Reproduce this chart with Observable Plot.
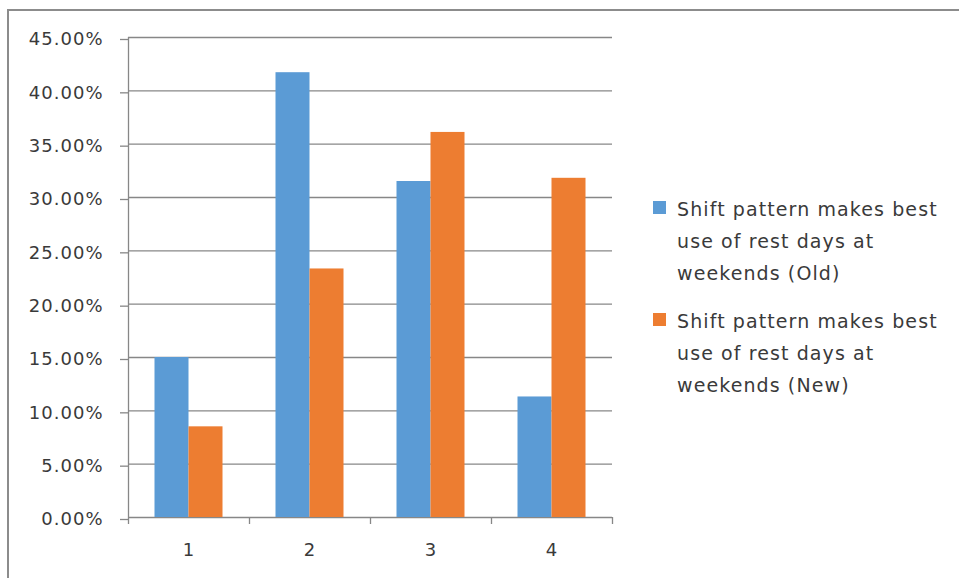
<!DOCTYPE html>
<html>
<head>
<meta charset="utf-8">
<script src="https://cdn.jsdelivr.net/npm/d3@7"></script>
<script src="https://cdn.jsdelivr.net/npm/@observablehq/plot@0.6"></script>
<style>
  body { margin: 0; background: #fff; }
  #chart { position: relative; width: 959px; height: 578px; overflow: hidden; font-family: "DejaVu Sans", sans-serif; }
  #frame { position: absolute; left: 7px; top: 9px; width: 1000px; height: 1000px; border: 2px solid #8c8c8c; box-sizing: border-box; }
  #plot { position: absolute; left: 0; top: 0; }
  #plot svg text { letter-spacing: 1px; }
  #legend { position: absolute; left: 653px; top: 193px; color: #3a3a3a; font-size: 19px; line-height: 32px; letter-spacing: 1.1px; }
  .item { display: flex; align-items: flex-start; margin-bottom: 16px; }
  .sw { width: 13px; height: 13px; margin-top: 8px; margin-right: 11px; flex: none; }
</style>
</head>
<body>
<div id="chart">
  <div id="frame"></div>
  <div id="plot"></div>
  <div id="legend"></div>
</div>
<script>
// Categories and the two series (share of responses)
const categories = [1, 2, 3, 4];
const oldValues = [0.150, 0.417, 0.315, 0.113];
const newValues = [0.085, 0.233, 0.361, 0.318];
const seriesNames = [
  "Shift pattern makes best use of rest days at weekends (Old)",
  "Shift pattern makes best use of rest days at weekends (New)"
];
const seriesColors = ["#5b9bd5", "#ed7d31"];
const yTicks = [0, 0.05, 0.10, 0.15, 0.20, 0.25, 0.30, 0.35, 0.40, 0.45];

// Each bar spans a fraction of its category slot, Old on the left, New on the right
const barWidth = 0.281;
const rows = [];
categories.forEach((c, i) => {
  rows.push({cat: c, s: 0, value: oldValues[i], x1: c - barWidth, x2: c});
  rows.push({cat: c, s: 1, value: newValues[i], x1: c, x2: c + barWidth});
});
const boundaries = d3.range(categories.length + 1).map(i => i + 0.5);

const gridColor = "#878787";
const textColor = "#3a3a3a";

const plot = Plot.plot({
  width: 959,
  height: 578,
  marginLeft: 128,
  marginRight: 347,
  marginTop: 37,
  marginBottom: 61,
  style: { fontFamily: "DejaVu Sans, sans-serif", fontSize: "18px", color: textColor, background: "transparent" },
  x: { type: "linear", domain: [0.5, categories.length + 0.5] },
  y: { domain: [0, 0.45] },
  marks: [
    Plot.ruleY(yTicks, { y: d => d, x1: 0.5, x2: categories.length + 0.5, stroke: gridColor, strokeWidth: 1.3 }),
    Plot.rectY(rows, { x1: "x1", x2: "x2", y1: 0, y2: "value", fill: d => seriesColors[d.s] }),
    Plot.ruleX([0.5], { y1: 0, y2: 0.45, stroke: gridColor, strokeWidth: 1.3 }),
    Plot.axisY({ ticks: yTicks, tickFormat: d3.format(".2%"), tickSize: 8, tickPadding: 17, stroke: gridColor, strokeWidth: 1.3, fill: textColor, dy: 2, label: null }),
    Plot.axisX({ ticks: boundaries, tickFormat: () => "", tickSize: 7, stroke: gridColor, strokeWidth: 1.3, label: null }),
    Plot.axisX({ ticks: categories, tickFormat: d => String(d), tickSize: 0, tickPadding: 26, fill: textColor, label: null })
  ]
});
document.getElementById("plot").appendChild(plot);

// Legend with wrapped series names
const legend = document.getElementById("legend");
seriesNames.forEach((name, i) => {
  const item = document.createElement("div");
  item.className = "item";
  const sw = document.createElement("div");
  sw.className = "sw";
  sw.style.background = seriesColors[i];
  const txt = document.createElement("div");
  const words = name.split(" ");
  txt.innerHTML = [words.slice(0, 4).join(" "), words.slice(4, 9).join(" "), words.slice(9).join(" ")].join("<br>");
  item.appendChild(sw);
  item.appendChild(txt);
  legend.appendChild(item);
});
</script>
</body>
</html>
